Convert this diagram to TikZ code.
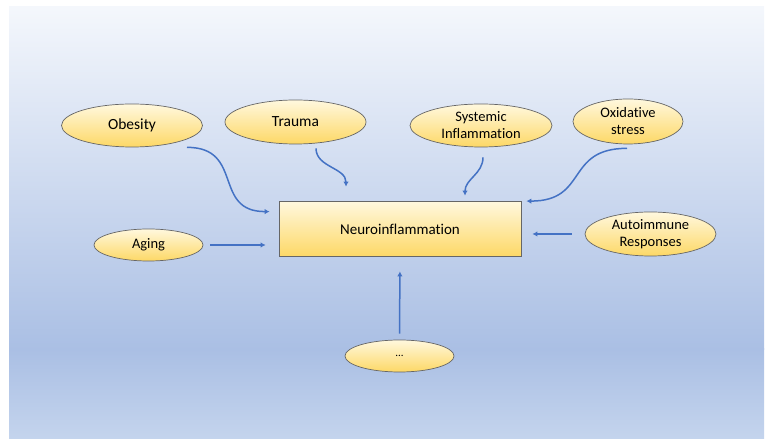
\documentclass[tikz,border=0pt]{standalone}
\usepackage{fontspec}
\setmainfont{Carlito}[Ligatures=NoCommon]
\usetikzlibrary{shapes.geometric,arrows.meta}
\definecolor{arrowblue}{HTML}{4472C4}
\definecolor{rim}{HTML}{666666}
\definecolor{goldtop}{HTML}{FFF8DE}
\definecolor{goldbot}{HTML}{FDD866}
\definecolor{bgtop}{HTML}{F4F7FC}
\definecolor{bgmid}{HTML}{AABFE4}
\definecolor{bgbot}{HTML}{C4D4ED}
\tikzset{block/.style={draw=rim, line width=0.8pt, top color=goldtop, bottom color=goldbot, minimum width=242pt, minimum height=55pt, align=center, font=\fontsize{15}{18}\selectfont},
  cause/.style={ellipse, draw=rim, line width=0.7pt, top color=goldtop, bottom color=goldbot, inner sep=0pt, align=center, font=\fontsize{14.5}{17}\selectfont},
  line/.style={-{Latex[length=5pt,width=5.5pt]}, draw=arrowblue, line width=1.5pt}}

\begin{document}
\begin{tikzpicture}[x=1pt,y=1pt]
    \useasboundingbox (0,0) rectangle (766,439);
    % background
    \shade[top color=bgmid, bottom color=bgbot] (9,0) rectangle (764,90);
    \shade[top color=bgtop, bottom color=bgmid] (9,89.5) rectangle (764,432);

    \node[block]                                                  (n) at (400,210)   {Neuroinflammation};
    \node[cause,minimum width=141pt,minimum height=43pt,font=\fontsize{15.5}{18}\selectfont] (o) at (132,313.5) {Obesity};
    \node[cause,minimum width=141pt,minimum height=44pt,font=\fontsize{15.5}{18}\selectfont] (t) at (295.5,317) {Trauma};
    \node[cause,minimum width=142pt,minimum height=43pt]           (s) at (481,313.5) {Systemic\\Inflammation};
    \node[cause,minimum width=110pt,minimum height=45pt]           (x) at (628,317.5) {Oxidative\\stress};
    \node[cause,minimum width=131pt,minimum height=44pt]           (r) at (650.5,205) {Autoimmune\\Responses};
    \node[cause,minimum width=109pt,minimum height=32pt]           (g) at (148.5,194) {Aging};
    \node[cause,minimum width=109pt,minimum height=32pt,font=\fontsize{11}{13}\selectfont] (d) at (399.5,83) {...};

    \draw[line]               ([xshift=55pt]o.south) to[out=0,in=180,looseness=1.4] ([xshift=-9pt,yshift=-10.5pt]n.north west);
    \draw[line]               ([xshift=20.5pt,yshift=-4pt]t.south) to[out=-90,in=90] ([xshift=-54pt,yshift=14.5pt]n.north);
    \draw[line]               ([xshift=2pt,yshift=-10pt]s.south) to[out=-90,in=90] ([xshift=65pt,yshift=5.5pt]n.north);
    \draw[line]               ([xshift=-1pt,yshift=-4pt]x.south) to[out=180,in=0,looseness=1.4] ([xshift=5pt]n.north east);
    \draw[line,shorten <=13pt,shorten >=11pt]   (r.west)-- (r.west -| n.east);
    \draw[line,shorten <=7pt,shorten >=13pt]    (g.east)-- (g.east -| n.west);
    \draw[line,shorten <=6pt,shorten >=14.5pt]  (d.north)-- (n.south);
\end{tikzpicture}
\end{document}
